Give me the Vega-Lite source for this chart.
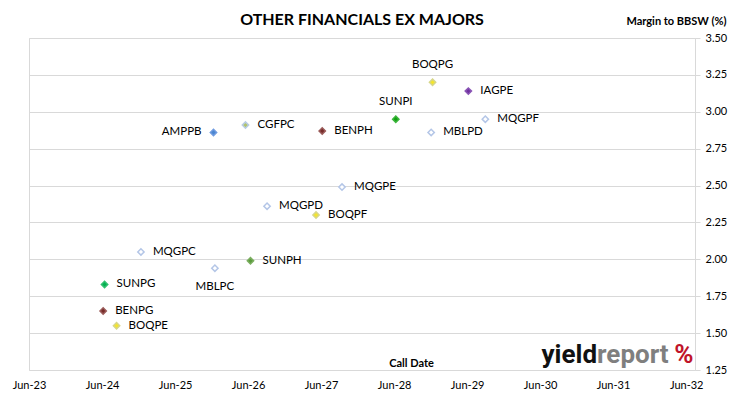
{
  "$schema": "https://vega.github.io/schema/vega-lite/v6.json",
  "width": 666,
  "height": 332,
  "autosize": {"type": "none"},
  "padding": {"left": 29, "top": 38, "right": 35, "bottom": 29},
  "background": "white",
  "config": {
    "font": "Lato",
    "view": {"stroke": "#d9d9d9", "strokeWidth": 1}
  },
  "title": {
    "text": "OTHER FINANCIALS EX MAJORS",
    "anchor": "middle",
    "frame": "group",
    "font": "Lato",
    "fontSize": 16,
    "fontWeight": "bold",
    "color": "#000000",
    "baseline": "alphabetic",
    "offset": -26
  },
  "datasets": {
    "notes": [
      {"code": "AMPPB", "date": "2026-01-08", "margin": 2.86},
      {"code": "CGFPC", "date": "2026-06-17", "margin": 2.91},
      {"code": "BENPH", "date": "2027-07-06", "margin": 2.87},
      {"code": "BOQPG", "date": "2029-01-08", "margin": 3.20},
      {"code": "IAGPE", "date": "2029-07-06", "margin": 3.14},
      {"code": "SUNPI", "date": "2028-07-08", "margin": 2.95},
      {"code": "MBLPD", "date": "2029-01-01", "margin": 2.86},
      {"code": "MQGPF", "date": "2029-09-29", "margin": 2.95},
      {"code": "MQGPE", "date": "2027-10-13", "margin": 2.49},
      {"code": "MQGPD", "date": "2026-10-03", "margin": 2.36},
      {"code": "BOQPF", "date": "2027-06-05", "margin": 2.30},
      {"code": "MQGPC", "date": "2025-01-10", "margin": 2.05},
      {"code": "MBLPC", "date": "2026-01-15", "margin": 1.94},
      {"code": "SUNPH", "date": "2026-07-12", "margin": 1.99},
      {"code": "SUNPG", "date": "2024-07-12", "margin": 1.83},
      {"code": "BENPG", "date": "2024-07-05", "margin": 1.65},
      {"code": "BOQPE", "date": "2024-09-10", "margin": 1.55}
    ],
    "logo": [
      {"part": "yield", "date": "2031-04-11", "margin": 1.30},
      {"part": "report", "date": "2031-04-11", "margin": 1.30},
      {"part": "%", "date": "2032-05-01", "margin": 1.30}
    ]
  },
  "data": {"name": "notes"},
  "encoding": {
    "x": {
      "field": "date",
      "type": "temporal",
      "scale": {"type": "utc", "domain": [{"year": 2023, "month": 6, "date": 30, "utc": true}, {"year": 2032, "month": 8, "date": 13, "utc": true}]},
      "axis": {
        "values": [
          {"year": 2023, "month": 6, "date": 30, "utc": true},
          {"year": 2024, "month": 6, "date": 30, "utc": true},
          {"year": 2025, "month": 6, "date": 30, "utc": true},
          {"year": 2026, "month": 6, "date": 30, "utc": true},
          {"year": 2027, "month": 6, "date": 30, "utc": true},
          {"year": 2028, "month": 6, "date": 30, "utc": true},
          {"year": 2029, "month": 6, "date": 30, "utc": true},
          {"year": 2030, "month": 6, "date": 30, "utc": true},
          {"year": 2031, "month": 6, "date": 30, "utc": true},
          {"year": 2032, "month": 6, "date": 30, "utc": true}
        ],
        "format": "%b-%y",
        "grid": false,
        "ticks": false,
        "domain": false,
        "labelFont": "Lato",
        "labelFontSize": 11,
        "labelColor": "#000000",
        "labelPadding": 9,
        "labelFlush": false,
        "labelOverlap": false,
        "title": "Call Date",
        "titleFont": "Lato",
        "titleFontSize": 11,
        "titleFontWeight": "bold",
        "titleColor": "#000000",
        "titleX": 382,
        "titleY": -4,
        "titleBaseline": "alphabetic"
      }
    },
    "y": {
      "field": "margin",
      "type": "quantitative",
      "scale": {"domain": [1.25, 3.5], "nice": false, "zero": false},
      "axis": {
        "orient": "right",
        "values": [1.25, 1.5, 1.75, 2.0, 2.25, 2.5, 2.75, 3.0, 3.25, 3.5],
        "format": ".2f",
        "grid": true,
        "gridColor": "#d9d9d9",
        "gridWidth": 1,
        "domain": false,
        "ticks": true,
        "tickSize": 5,
        "tickColor": "#d9d9d9",
        "labelFont": "Lato",
        "labelFontSize": 11,
        "labelColor": "#000000",
        "labelPadding": 5,
        "title": "Margin to BBSW (%)",
        "titleAngle": 0,
        "titleAlign": "right",
        "titleBaseline": "alphabetic",
        "titleX": 31,
        "titleY": -14,
        "titleFont": "Lato",
        "titleFontSize": 11,
        "titleFontWeight": "bold",
        "titleColor": "#000000"
      }
    }
  },
  "layer": [
    {
      "mark": {"type": "point", "shape": "diamond", "size": 40, "filled": true, "strokeWidth": 1.5, "opacity": 1},
      "encoding": {
        "fill": {
          "field": "code",
          "type": "nominal",
          "legend": null,
          "scale": {
            "domain": ["AMPPB", "CGFPC", "BENPH", "BOQPG", "IAGPE", "SUNPI", "MBLPD", "MQGPF", "MQGPE", "MQGPD", "BOQPF", "MQGPC", "MBLPC", "SUNPH", "SUNPG", "BENPG", "BOQPE"],
            "range": ["#4a86d0", "#b3c46b", "#772c2a", "#f5e52a", "#7030a0", "#11a011", "#ffffff", "#ffffff", "#ffffff", "#ffffff", "#f5e52a", "#ffffff", "#ffffff", "#5a9a3c", "#00b050", "#772c2a", "#f5e52a"]
          }
        },
        "stroke": {
          "field": "code",
          "type": "nominal",
          "legend": null,
          "scale": {
            "domain": ["AMPPB", "CGFPC", "BENPH", "BOQPG", "IAGPE", "SUNPI", "MBLPD", "MQGPF", "MQGPE", "MQGPD", "BOQPF", "MQGPC", "MBLPC", "SUNPH", "SUNPG", "BENPG", "BOQPE"],
            "range": ["#6f9be0", "#b8cce4", "#9a5a58", "#d6d68a", "#8a55b5", "#3cb53c", "#b4c6e7", "#b4c6e7", "#b4c6e7", "#b4c6e7", "#d6d68a", "#b4c6e7", "#b4c6e7", "#7aae5e", "#33c070", "#9a5a58", "#d6d68a"]
          }
        }
      }
    },
    {
      "transform": [{"filter": {"field": "code", "oneOf": ["CGFPC", "BENPH", "IAGPE", "MBLPD", "MQGPF", "MQGPE", "MQGPD", "BOQPF", "MQGPC", "SUNPH", "SUNPG", "BENPG", "BOQPE"]}}],
      "mark": {"type": "text", "align": "left", "baseline": "middle", "dx": 12, "font": "Lato", "fontSize": 11.5, "color": "#000000"},
      "encoding": {"text": {"field": "code"}}
    },
    {
      "transform": [{"filter": {"field": "code", "oneOf": ["AMPPB"]}}],
      "mark": {"type": "text", "align": "right", "baseline": "middle", "dx": -12, "font": "Lato", "fontSize": 11.5, "color": "#000000"},
      "encoding": {"text": {"field": "code"}}
    },
    {
      "transform": [{"filter": {"field": "code", "oneOf": ["BOQPG", "SUNPI"]}}],
      "mark": {"type": "text", "align": "center", "baseline": "middle", "dy": -17, "font": "Lato", "fontSize": 11.5, "color": "#000000"},
      "encoding": {"text": {"field": "code"}}
    },
    {
      "transform": [{"filter": {"field": "code", "oneOf": ["MBLPC"]}}],
      "mark": {"type": "text", "align": "center", "baseline": "middle", "dy": 19, "font": "Lato", "fontSize": 11.5, "color": "#000000"},
      "encoding": {"text": {"field": "code"}}
    },
    {
      "data": {"name": "logo"},
      "transform": [{"filter": {"field": "part", "equal": "yield"}}],
      "mark": {"type": "text", "align": "right", "baseline": "alphabetic", "font": "Roboto", "fontSize": 26, "fontWeight": "bold", "color": "#111111"},
      "encoding": {"text": {"field": "part"}}
    },
    {
      "data": {"name": "logo"},
      "transform": [{"filter": {"field": "part", "equal": "report"}}],
      "mark": {"type": "text", "align": "left", "baseline": "alphabetic", "font": "Roboto", "fontSize": 26, "fontWeight": "bold", "color": "#7f7f7f"},
      "encoding": {"text": {"field": "part"}}
    },
    {
      "data": {"name": "logo"},
      "transform": [{"filter": {"field": "part", "equal": "%"}}],
      "mark": {"type": "text", "align": "left", "baseline": "alphabetic", "font": "Roboto", "fontSize": 26, "fontWeight": "bold", "color": "#c0142a"},
      "encoding": {"text": {"field": "part"}}
    }
  ]
}
